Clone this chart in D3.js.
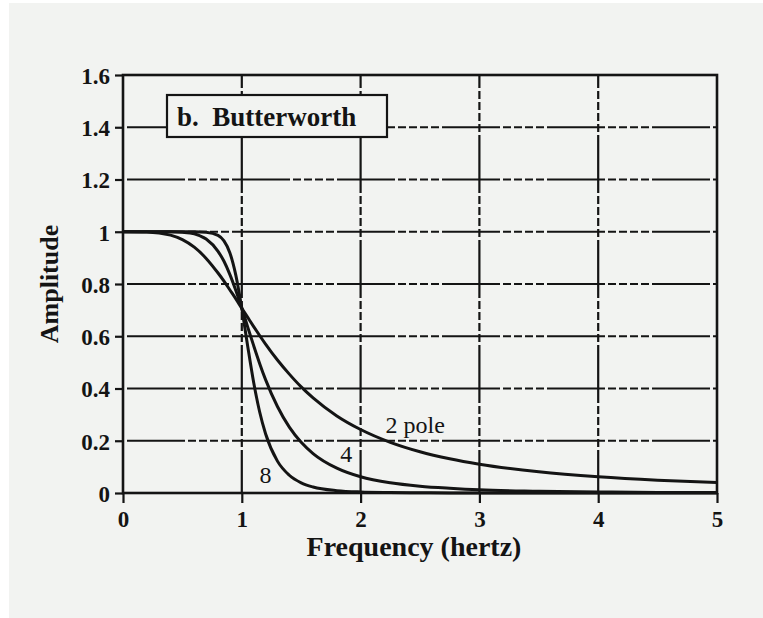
<!DOCTYPE html>
<html>
<head>
<meta charset="utf-8">
<script src="https://cdn.jsdelivr.net/npm/d3@7"></script>
<style>
  html, body { margin: 0; padding: 0; background: #ffffff; }
  svg { display: block; }
</style>
</head>
<body>
<svg id="chart" width="763" height="618"></svg>
<script>
// Frequency samples (hertz) and amplitude of each filter at those frequencies
const frequency = [0, 0.2, 0.4, 0.5, 0.6, 0.7, 0.8, 0.85, 0.9, 0.95, 1.0, 1.05, 1.1, 1.15, 1.2, 1.3, 1.4, 1.5, 1.6, 1.8, 2.0, 2.25, 2.5, 2.75, 3.0, 3.5, 4.0, 4.5, 5.0];
const pole2 = [1.000, 0.999, 0.987, 0.970, 0.941, 0.898, 0.842, 0.811, 0.777, 0.743, 0.707, 0.672, 0.637, 0.603, 0.570, 0.509, 0.455, 0.406, 0.364, 0.295, 0.243, 0.194, 0.158, 0.131, 0.110, 0.081, 0.062, 0.049, 0.040];
const pole4 = [1.000, 1.000, 1.000, 0.998, 0.992, 0.972, 0.925, 0.887, 0.836, 0.775, 0.707, 0.635, 0.564, 0.496, 0.434, 0.331, 0.252, 0.194, 0.151, 0.095, 0.062, 0.039, 0.026, 0.018, 0.012, 0.007, 0.004, 0.002, 0.002];
const pole8 = [1.000, 1.000, 1.000, 1.000, 1.000, 0.998, 0.986, 0.965, 0.919, 0.833, 0.707, 0.561, 0.423, 0.311, 0.227, 0.122, 0.068, 0.039, 0.023, 0.009, 0.004, 0.002, 0.001, 0.000, 0.000, 0.000, 0.000, 0.000, 0.000];

const xTicks = [0, 1, 2, 3, 4, 5];
const yTicks = [0, 0.2, 0.4, 0.6, 0.8, 1, 1.2, 1.4, 1.6];
const yTickLabels = ["0", "0.2", "0.4", "0.6", "0.8", "1", "1.2", "1.4", "1.6"];

const seriesLabels = [
  { text: "2 pole", f: 2.46, a: 0.23 },
  { text: "4", f: 1.88, a: 0.12 },
  { text: "8", f: 1.2, a: 0.04 }
];

const W = 763, H = 618;
const plotLeft = 123, plotRight = 717, plotTop = 75, plotBottom = 493;
const serif = "'Liberation Serif', 'Times New Roman', serif";
const ink = "#141414";

const svg = d3.select("#chart");

// panel background
svg.append("rect")
  .attr("x", 9).attr("y", 3).attr("width", W - 9).attr("height", H - 3)
  .attr("fill", "#f2f3f1");

const x = d3.scaleLinear().domain([0, 5]).range([plotLeft, plotRight]);
const y = d3.scaleLinear().domain([0, 1.6]).range([plotBottom, plotTop]);

// grid lines (broken dash pattern)
const gridDash = "58,3,8,3,8,3,8,3,8,3";
const grid = svg.append("g");
grid.selectAll("line.h")
  .data(yTicks.filter(v => v > 0 && v < 1.6))
  .join("line")
  .attr("x1", plotLeft).attr("x2", plotRight)
  .attr("y1", d => y(d)).attr("y2", d => y(d))
  .attr("stroke", ink).attr("stroke-width", 2.2)
  .attr("stroke-dasharray", gridDash)
  .attr("stroke-dashoffset", -4);
grid.selectAll("line.v")
  .data(xTicks.filter(v => v > 0 && v < 5))
  .join("line")
  .attr("x1", d => x(d)).attr("x2", d => x(d))
  .attr("y1", plotTop).attr("y2", plotBottom)
  .attr("stroke", ink).attr("stroke-width", 2.2)
  .attr("stroke-dasharray", gridDash)
  .attr("stroke-dashoffset", -60);

// axes
const yAxis = d3.axisLeft(y).tickValues(yTicks)
  .tickFormat((d, i) => yTickLabels[i]).tickSize(8).tickPadding(5);
const xAxis = d3.axisBottom(x).tickValues(xTicks)
  .tickFormat(d3.format("d")).tickSize(10).tickPadding(8);

const gy = svg.append("g").attr("transform", `translate(${plotLeft},0)`).call(yAxis);
const gx = svg.append("g").attr("transform", `translate(0,${plotBottom})`).call(xAxis);
[gx, gy].forEach(g => {
  g.select(".domain").remove();
  g.selectAll(".tick line").attr("stroke", ink).attr("stroke-width", 2.2);
  g.selectAll(".tick text")
    .attr("fill", ink)
    .style("font-family", serif)
    .style("font-weight", "bold")
    .style("font-size", "23px");
});
gy.selectAll(".tick text").attr("dy", "0.36em");

// plot frame
svg.append("rect")
  .attr("x", plotLeft).attr("y", plotTop)
  .attr("width", plotRight - plotLeft).attr("height", plotBottom - plotTop)
  .attr("fill", "none").attr("stroke", ink).attr("stroke-width", 2.6);

// curves
svg.append("clipPath").attr("id", "plot-clip")
  .append("rect").attr("x", plotLeft).attr("y", plotTop - 2)
  .attr("width", plotRight - plotLeft).attr("height", plotBottom - plotTop + 4);

const line = d3.line()
  .x((d, i) => x(frequency[i]))
  .y(d => y(d))
  .curve(d3.curveMonotoneX);

svg.append("g").attr("clip-path", "url(#plot-clip)")
  .selectAll("path")
  .data([pole2, pole4, pole8])
  .join("path")
  .attr("d", line)
  .attr("fill", "none")
  .attr("stroke", ink)
  .attr("stroke-width", 3)
  .attr("stroke-linejoin", "round");

// curve labels
svg.append("g").selectAll("text")
  .data(seriesLabels)
  .join("text")
  .attr("x", d => x(d.f))
  .attr("y", d => y(d.a))
  .attr("text-anchor", "middle")
  .attr("fill", ink)
  .style("font-family", serif)
  .style("font-size", "24px")
  .text(d => d.text);

// title box
const titleG = svg.append("g");
titleG.append("rect")
  .attr("x", 167).attr("y", 95).attr("width", 220).attr("height", 42)
  .attr("fill", "#f2f3f1").attr("stroke", ink).attr("stroke-width", 2.2);
titleG.append("text")
  .attr("x", 177).attr("y", 126)
  .attr("fill", ink)
  .style("font-family", serif)
  .style("font-size", "27px")
  .style("font-weight", "bold")
  .style("white-space", "pre")
  .text("b.  Butterworth");

// axis titles
svg.append("text")
  .attr("x", (plotLeft + plotRight) / 2 - 6).attr("y", 556)
  .attr("text-anchor", "middle")
  .attr("fill", ink)
  .style("font-family", serif)
  .style("font-size", "28px")
  .style("font-weight", "bold")
  .text("Frequency (hertz)");

svg.append("text")
  .attr("transform", `translate(58,${(plotTop + plotBottom) / 2}) rotate(-90)`)
  .attr("text-anchor", "middle")
  .attr("fill", ink)
  .style("font-family", serif)
  .style("font-size", "26px")
  .style("font-weight", "bold")
  .text("Amplitude");
</script>
</body>
</html>
